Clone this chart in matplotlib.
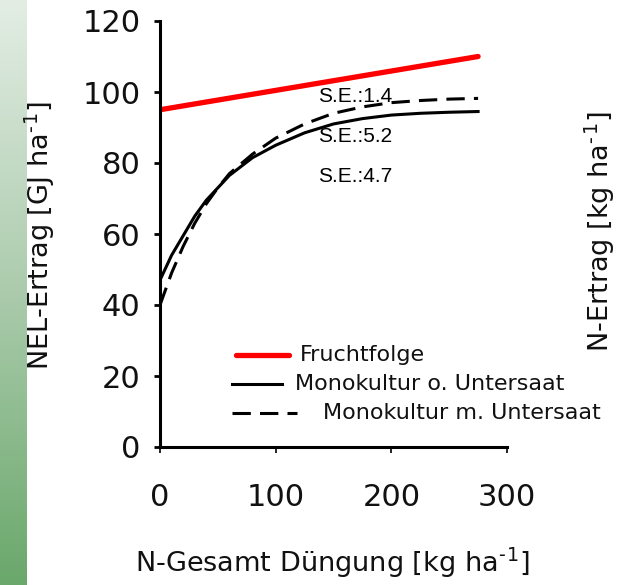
import numpy as np
import matplotlib.pyplot as plt
from matplotlib.lines import Line2D
from matplotlib.colors import LinearSegmentedColormap

plt.rcParams['font.family'] = ['DejaVu Sans']
plt.rcParams['mathtext.default'] = 'regular'

# N-Düngung (kg/ha) und Erträge
n_rot = [0, 275]
nel_rot = [95, 110]

n_mono = [0, 10, 20, 30, 40, 50, 60, 80, 100, 125, 150, 175, 200, 225, 250, 275]
nel_ohne = [47, 54, 59.5, 65, 69.5, 73, 76.5, 81.5, 85, 88.5, 91, 92.5, 93.5, 94, 94.3, 94.5]
nel_mit = [40, 49, 56.5, 63, 68.5, 73, 77, 82.5, 87, 91, 94, 95.8, 97, 97.6, 98, 98.2]

labels = ['Fruchtfolge', 'Monokultur o. Untersaat', 'Monokultur m. Untersaat']
se_texts = ['S.E.:1.4', 'S.E.:5.2', 'S.E.:4.7']

fig = plt.figure(figsize=(6.21, 5.85), dpi=100)

# grüner Randstreifen links
strip = fig.add_axes([0, 0, 27 / 621, 1])
cmap = LinearSegmentedColormap.from_list('g', ['#e3ede4', '#abcbac', '#6aa86b'])
strip.imshow(np.linspace(0, 1, 256).reshape(-1, 1), aspect='auto', cmap=cmap)
strip.axis('off')

ax = fig.add_axes([160 / 621, 1 - 447 / 585, 347 / 621, 426 / 585])
ax.plot(n_rot, nel_rot, color='#ff0000', lw=3.8, solid_capstyle='round')
ax.plot(n_mono, nel_ohne, color='black', lw=2.2)
ax.plot(n_mono, nel_mit, color='black', lw=2.2, dashes=(6, 3))

ax.set_xlim(0, 300)
ax.set_ylim(0, 120)
ax.set_xticks([0, 100, 200, 300])
ax.set_yticks(range(0, 121, 20))
for s in ['top', 'right']:
    ax.spines[s].set_visible(False)
for s in ['left', 'bottom']:
    ax.spines[s].set_linewidth(2.2)
ax.tick_params(axis='y', direction='out', length=4, width=2, pad=10, labelsize=22)
ax.tick_params(axis='x', direction='out', length=4, width=1.2, pad=22, labelsize=22)
for lbl in ax.get_xticklabels() + ax.get_yticklabels():
    lbl.set_color('#111111')

sup = '$^{\u2010\u200a1}$'
fig.text(40 / 621, 1 - 235 / 585, 'NEL-Ertrag [GJ ha' + sup + ']', rotation=90,
         fontsize=19.5, ha='center', va='center', color='#111111')
fig.text(333 / 621, 1 - 563 / 585, 'N-Gesamt Düngung [kg ha' + sup + ']',
         fontsize=19.5, ha='center', va='center', color='#111111')
fig.text(600 / 621, 1 - 232 / 585, 'N-Ertrag [kg ha' + sup + ']', rotation=90,
         fontsize=19.5, ha='center', va='center', color='#111111')

for i, t in enumerate(se_texts):
    ax.text(0.455, 0.822 - i * 0.093, t, transform=ax.transAxes, fontsize=15,
            family='Liberation Sans', va='center')

# Legende
styles = [dict(color='#ff0000', lw=3.8, solid_capstyle='round'),
          dict(color='black', lw=2.2),
          dict(color='black', lw=2.2, dashes=(6, 3))]
handle_x = [(0.219, 0.372), (0.207, 0.352), (0.207, 0.395)]
text_x = [0.403, 0.389, 0.47]
rows = [0.216, 0.148, 0.080]
for lab, st, hx, tx, yy in zip(labels, styles, handle_x, text_x, rows):
    ax.add_line(Line2D(hx, [yy, yy], transform=ax.transAxes, **st))
    ax.text(tx, yy, lab, transform=ax.transAxes, fontsize=16, va='center',
            color='#111111')

fig.savefig('out.png', dpi=100)
